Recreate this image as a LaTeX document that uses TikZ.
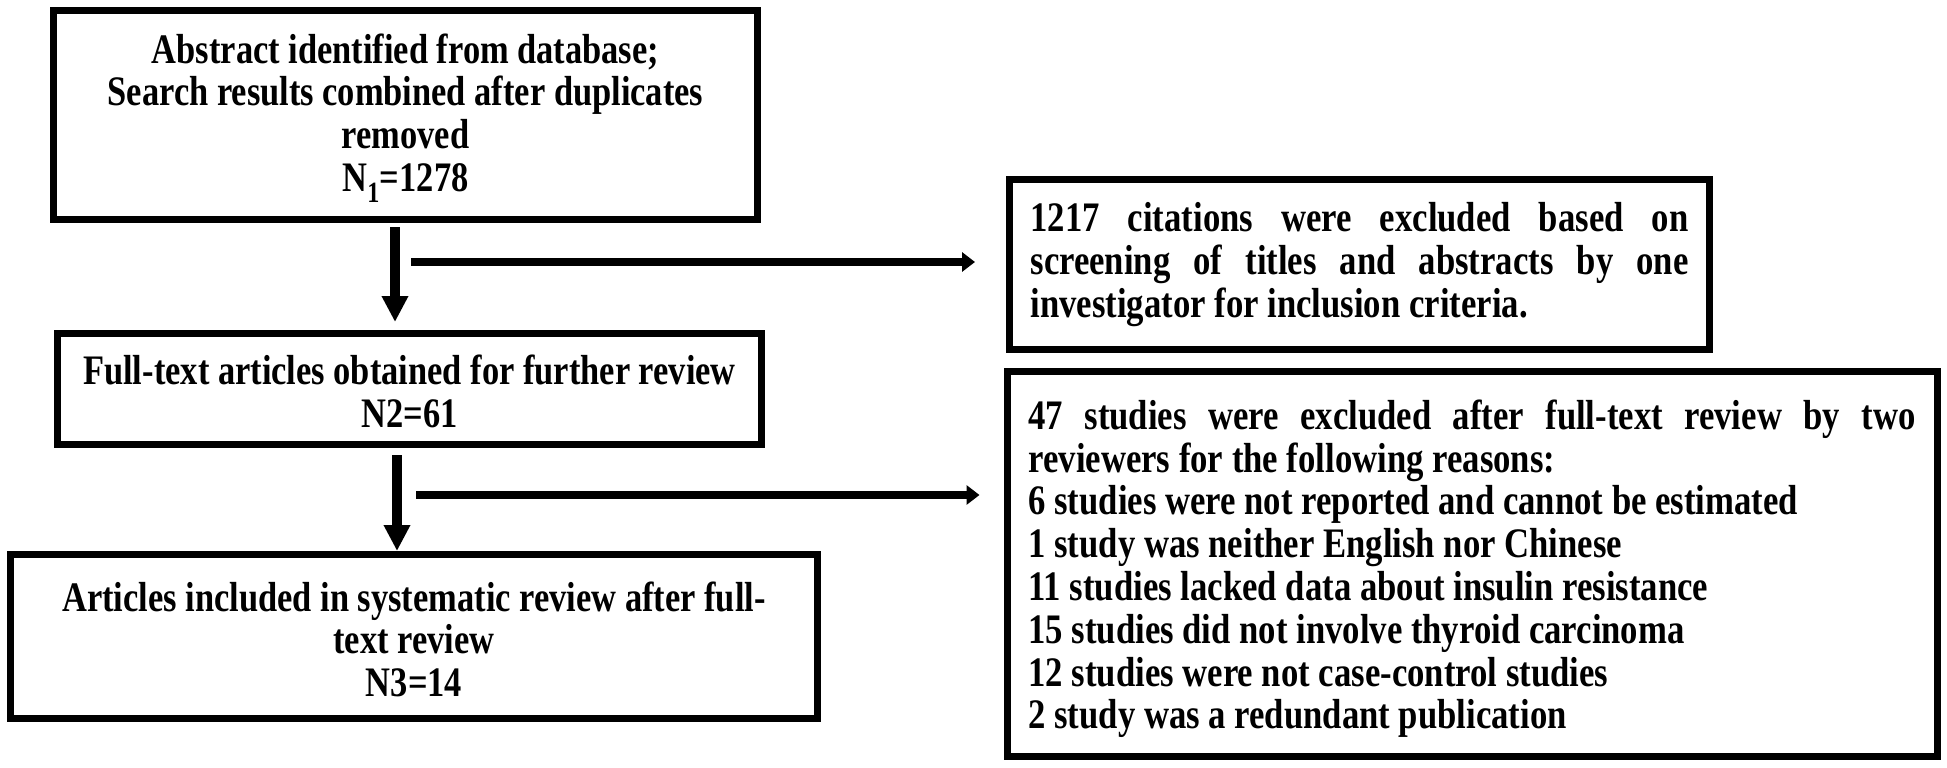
\documentclass[tikz,border=0pt]{standalone}
\usepackage{fontspec}
\setmainfont[FakeStretch=0.82]{Liberation Serif}
\newfontfamily\narrowfont[FakeStretch=0.826]{Liberation Serif}
\usetikzlibrary{arrows.meta}
\newcommand\boxtext[4]{\raisebox{#1}[\height][\depth]{\parbox{#2}{#3#4}}}
\begin{document}
\begin{tikzpicture}[x=1pt,y=-1pt,
  box/.style={draw=black, line width=7pt, inner sep=0pt,
    font=\bfseries\fontsize{42}{42.8}\selectfont},
  narrowbox/.style={box, font=\narrowfont\bfseries\fontsize{42}{42.8}\selectfont},
  varrow/.style={line width=10pt, -{Triangle[length=26pt,width=25pt]}},
  harrow/.style={line width=8pt, -{Triangle[length=13pt,width=19pt]}}]
\useasboundingbox[fill=white] (0,0) rectangle (1947,768);
\node[box, minimum width=704pt, minimum height=209pt] (b1) at (405.5,115)
  {\boxtext{-3pt}{690pt}{\centering}{Abstract identified from database;\\Search results combined after duplicates\\removed\\N\textsubscript{1}=1278}};
\node[narrowbox, minimum width=700pt, minimum height=170pt] (b2) at (1359.5,264.5)
  {\boxtext{0pt}{658pt}{\raggedright}{\leavevmode\hbox to 658pt{1217\hfill citations\hfill were\hfill excluded\hfill based\hfill on}\\
   \leavevmode\hbox to 658pt{screening\hfill of\hfill titles\hfill and\hfill abstracts\hfill by\hfill one}\\
   investigator for inclusion criteria.}};
\node[box, minimum width=704pt, minimum height=111.5pt] (b3) at (409.5,388.75)
  {\boxtext{-3pt}{690pt}{\centering}{Full-text articles obtained for further review\\N2=61}};
\node[box, minimum width=807pt, minimum height=164.5pt] (b4) at (414,636.25)
  {\boxtext{-3pt}{795pt}{\centering}{Articles included in systematic review after full-\\text review\\N3=14}};
\node[narrowbox, minimum width=930pt, minimum height=385.5pt] (b5) at (1472,563.75)
  {\boxtext{-5pt}{887pt}{\raggedright}{\leavevmode\hbox to 887pt{47\hfill studies\hfill were\hfill excluded\hfill after\hfill full-text\hfill review\hfill by\hfill two}\\
   reviewers for the following reasons:\\
   6 studies were not reported and cannot be estimated\\
   1 study was neither English nor Chinese\\
   11 studies lacked data about insulin resistance\\
   15 studies did not involve thyroid carcinoma\\
   12 studies were not case-control studies\\
   2 study was a redundant publication}};
\draw[varrow] ([xshift=-10.5pt,yshift=-4pt]b1.south) -- ([xshift=-14.5pt,yshift=7.5pt]b3.north);
\draw[varrow] ([xshift=-12.5pt,yshift=-7pt]b3.south) -- ([xshift=-17pt,yshift=-0.5pt]b4.north);
\coordinate (s1) at (411,262);
\coordinate (s2) at (416,495);
\draw[harrow, shorten >=31pt] (s1) -- (s1 -| b2.west);
\draw[harrow, shorten >=24pt] (s2) -- (s2 -| b5.west);
\end{tikzpicture}
\end{document}
